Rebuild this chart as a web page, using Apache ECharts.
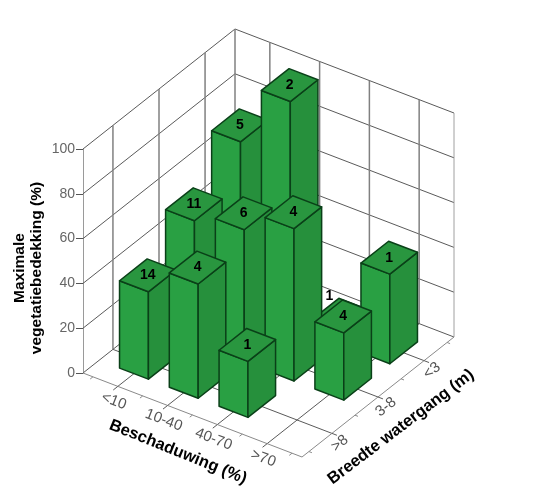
<!DOCTYPE html>
<html lang="nl">
<head>
<meta charset="UTF-8">
<title>Maximale vegetatiebedekking</title>
<script src="https://cdn.jsdelivr.net/npm/echarts/dist/echarts.min.js"></script>
<style>
  html, body { margin: 0; background: #fff; }
  #chart { width: 538px; height: 500px; }
</style>
</head>
<body>
<div id="chart"></div>
<script>
var shadeCats = ['<10', '10-40', '40-70', '>70'];
var widthCats = ['>8', '3-8', '<3'];
var valueTicks = [0, 20, 40, 60, 80, 100];

// rows follow widthCats, columns follow shadeCats
var valuesWide = [39, 51, 25, null];
var valuesMid = [54.5, 59, 68, 30];
var valuesNarrow = [73.5, 100, 6, 40];
var countsWide = [14, 4, 1, null];
var countsMid = [11, 6, 4, 4];
var countsNarrow = [5, 2, 1, 1];

var valueRows = [valuesWide, valuesMid, valuesNarrow];
var countRows = [countsWide, countsMid, countsNarrow];

var MARGIN_I = 0.7, MARGIN_J = 0.65;
var DEPTH_DX = 152, DEPTH_DY = -120, SKEW = 84 / 219;
var BAR_W = 0.29, BAR_D = 0.3;

// x axis holds the shade category, y axis the value; depth is added as an oblique offset
function project(api, i, j, v) {
  var p = api.coord([i, v]);
  var start = api.coord([-MARGIN_I, 0]);
  var t = (j + MARGIN_J) / (widthCats.length - 1 + 2 * MARGIN_J);
  return [p[0] + t * DEPTH_DX, p[1] + (p[0] - start[0]) * SKEW + t * DEPTH_DY];
}

function lineShape(a, b, color, width) {
  return {
    type: 'line',
    shape: { x1: a[0], y1: a[1], x2: b[0], y2: b[1] },
    style: { stroke: color, lineWidth: width }
  };
}

function textShape(text, pos, rotation, style) {
  return {
    type: 'text',
    x: pos[0], y: pos[1],
    rotation: rotation,
    style: Object.assign({ text: text, align: 'center', verticalAlign: 'middle' }, style)
  };
}

function renderFrame(params, api) {
  var iMin = -MARGIN_I, iMax = shadeCats.length - 1 + MARGIN_I;
  var jMin = -MARGIN_J, jMax = widthCats.length - 1 + MARGIN_J;
  var gridColor = '#5a5a5a', wallColor = '#808080', edgeColor = '#8a8a8a';
  var els = [];

  // horizontal lines on both walls
  valueTicks.forEach(function (v) {
    if (v > 0) {
      els.push(lineShape(project(api, iMin, jMin, v), project(api, iMin, jMax, v), gridColor, 1));
      els.push(lineShape(project(api, iMin, jMax, v), project(api, iMax, jMax, v), gridColor, 1));
    }
  });
  // floor and vertical wall lines
  shadeCats.forEach(function (c, i) {
    els.push(lineShape(project(api, i, jMin, 0), project(api, i, jMax, 0), gridColor, 1));
    els.push(lineShape(project(api, i, jMax, 0), project(api, i, jMax, 100), wallColor, 1.5));
  });
  widthCats.forEach(function (c, j) {
    els.push(lineShape(project(api, iMin, j, 0), project(api, iMax, j, 0), gridColor, 1));
    els.push(lineShape(project(api, iMin, j, 0), project(api, iMin, j, 100), wallColor, 1.5));
  });
  // outline
  els.push(lineShape(project(api, iMin, jMax, 0), project(api, iMin, jMin, 0), gridColor, 1));
  els.push(lineShape(project(api, iMin, jMax, 0), project(api, iMax, jMax, 0), gridColor, 1));
  els.push(lineShape(project(api, iMin, jMax, 0), project(api, iMin, jMax, 100), wallColor, 1.5));
  els.push(lineShape(project(api, iMax, jMax, 0), project(api, iMax, jMax, 100), '#a0a0a0', 1));
  els.push(lineShape(project(api, iMin, jMin, 0), project(api, iMax, jMin, 0), edgeColor, 1));
  els.push(lineShape(project(api, iMax, jMin, 0), project(api, iMax, jMax, 0), edgeColor, 1));

  // ticks and category labels along the two floor edges
  var labelStyle = { fill: '#555555', fontFamily: 'Liberation Sans', fontSize: 15 };
  shadeCats.forEach(function (c, i) {
    els.push(lineShape(project(api, i, jMin, 0), project(api, i, jMin - 0.1, 0), gridColor, 1));
    els.push(lineShape(project(api, i - 0.5, jMin, 0), project(api, i - 0.5, jMin - 0.06, 0), edgeColor, 1));
    if (i === shadeCats.length - 1) {
      els.push(lineShape(project(api, i + 0.5, jMin, 0), project(api, i + 0.5, jMin - 0.06, 0), edgeColor, 1));
    }
    els.push(textShape(c, project(api, i + 0.2, jMin - 0.3, 0), -Math.atan(SKEW), labelStyle));
  });
  widthCats.forEach(function (c, j) {
    els.push(lineShape(project(api, iMax, j, 0), project(api, iMax + 0.1, j, 0), gridColor, 1));
    els.push(lineShape(project(api, iMax, j - 0.5, 0), project(api, iMax + 0.06, j - 0.5, 0), edgeColor, 1));
    if (j === widthCats.length - 1) {
      els.push(lineShape(project(api, iMax, j + 0.5, 0), project(api, iMax + 0.06, j + 0.5, 0), edgeColor, 1));
    }
    els.push(textShape(c, project(api, iMax + 0.28, j - 0.13, 0), Math.atan2(-DEPTH_DY, DEPTH_DX), labelStyle));
  });
  return { type: 'group', children: els };
}

function face(points, fill) {
  return {
    type: 'polygon',
    shape: { points: points },
    style: { fill: fill, stroke: '#0a4018', lineWidth: 1.5, lineJoin: 'round' }
  };
}

function renderBar(params, api) {
  var i = api.value(0), j = api.value(1), v = api.value(2);
  var n = api.value(3);
  var l = i - BAR_W, r = i + BAR_W, f = j - BAR_D, b = j + BAR_D;
  var front = face([project(api, l, f, 0), project(api, r, f, 0), project(api, r, f, v), project(api, l, f, v)], '#29a043');
  var side = face([project(api, r, f, 0), project(api, r, b, 0), project(api, r, b, v), project(api, r, f, v)], '#26903c');
  var top = face([project(api, l, f, v), project(api, r, f, v), project(api, r, b, v), project(api, l, b, v)], '#29963f');
  var c = project(api, i, j, v);
  // the label of the nearly hidden low bar sits up and to the left of its top
  if (v < 10) c = [c[0] - 10, c[1] - 19];
  var label = textShape(String(n), c, 0, { fill: '#000', fontFamily: 'Liberation Sans', fontSize: 14, fontWeight: 'bold' });
  return { type: 'group', children: [front, side, top, label] };
}

// draw far bars first so nearer ones cover them
var barData = [];
valueRows.forEach(function (row, j) {
  row.forEach(function (v, i) {
    if (v !== null) barData.push([i, j, v, countRows[j][i]]);
  });
});
barData.sort(function (a, b) { return (a[0] - a[1]) - (b[0] - b[1]); });

var chart = echarts.init(document.getElementById('chart'));
chart.setOption({
  animation: false,
  backgroundColor: '#fff',
  grid: { left: 83, top: 149, width: 219, height: 224 },
  xAxis: { type: 'value', min: -MARGIN_I, max: shadeCats.length - 1 + MARGIN_I, show: false },
  yAxis: {
    type: 'value', min: 0, max: 100, interval: 20,
    splitLine: { show: false },
    axisLine: { show: true, onZero: false, lineStyle: { color: '#9a9a9a' } },
    axisTick: { show: true, length: 7, lineStyle: { color: '#555' } },
    axisLabel: { color: '#666', fontFamily: 'Liberation Sans', fontSize: 14, margin: 8 }
  },
  graphic: [
    { type: 'text', x: 28, y: 268, rotation: Math.PI / 2, style: { text: 'Maximale\nvegetatiebedekking (%)', align: 'center', verticalAlign: 'middle', fill: '#000', fontFamily: 'Liberation Sans', fontSize: 15.5, fontWeight: 'bold', lineHeight: 17 } },
    { type: 'text', x: 178, y: 452, rotation: -0.385, style: { text: 'Beschaduwing (%)', align: 'center', verticalAlign: 'middle', fill: '#000', fontFamily: 'Liberation Sans', fontSize: 16.5, fontWeight: 'bold' } },
    { type: 'text', x: 401, y: 427, rotation: 0.65, style: { text: 'Breedte watergang (m)', align: 'center', verticalAlign: 'middle', fill: '#000', fontFamily: 'Liberation Sans', fontSize: 16.5, fontWeight: 'bold' } }
  ],
  series: [
    { type: 'custom', silent: true, clip: false, renderItem: renderFrame, data: [[0, 0]], z: 1 },
    { type: 'custom', silent: true, clip: false, renderItem: renderBar, data: barData, encode: { x: 0, y: 2 }, z: 2 }
  ]
});
</script>
</body>
</html>
